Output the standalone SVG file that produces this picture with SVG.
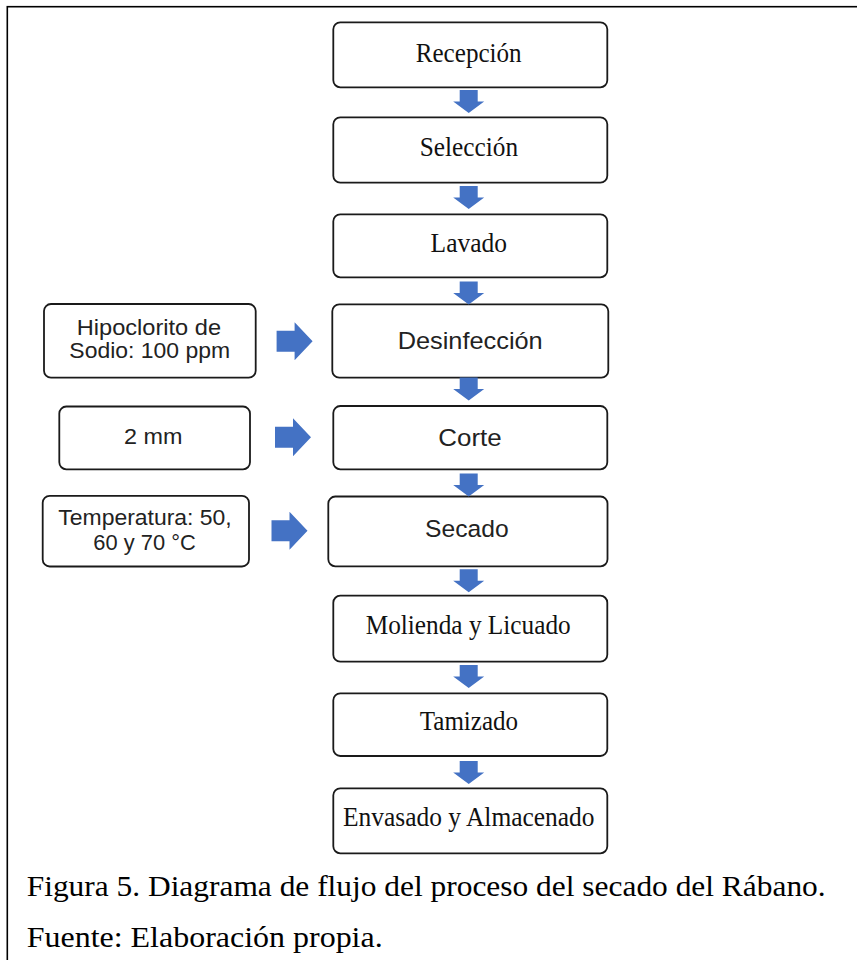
<svg xmlns="http://www.w3.org/2000/svg" width="857" height="960" viewBox="0 0 857 960">
<style>
.frame{fill:#fff;stroke:#000;stroke-width:1.6}
.box{fill:#fff;stroke:#1a1a1a;stroke-width:1.8}
.serif{font-family:"Liberation Serif","Times New Roman",serif;font-size:26.5px;fill:#111;text-anchor:middle}
.sans{font-family:"Liberation Sans",Arial,sans-serif;fill:#222;text-anchor:middle}
.big{font-size:24.5px}
.small{font-size:22px}
.cap{font-family:"Liberation Serif","Times New Roman",serif;font-size:30px;fill:#000}
.arr{fill:#4472C4}
</style>
<defs>
<path id="down" d="M-9,0 H9 V11.5 H15.5 L0,23 L-15.5,11.5 H-9 Z"/>
<path id="right" d="M0,-10.5 H18 V-19 L36,0 L18,19 V10.5 H0 Z"/>
</defs>
<rect class="frame" x="7.3" y="6.7" width="900" height="1000"/>

<g id="recepcion"><rect class="box" x="333.3" y="22.3" width="274" height="65" rx="7"/><text class="serif" x="468.7" y="61.7" textLength="106" lengthAdjust="spacingAndGlyphs">Recepción</text></g>
<g id="seleccion"><rect class="box" x="333.3" y="117.3" width="274" height="65.4" rx="7"/><text class="serif" x="468.9" y="156" textLength="98.3" lengthAdjust="spacingAndGlyphs">Selección</text></g>
<g id="lavado"><rect class="box" x="333.3" y="214.3" width="274" height="63" rx="7"/><text class="serif" x="468.8" y="251.5" textLength="76.4" lengthAdjust="spacingAndGlyphs">Lavado</text></g>
<g id="desinfeccion"><rect class="box" x="332.3" y="304.3" width="276" height="73.4" rx="7"/><text class="sans big" x="470.2" y="349" textLength="145" lengthAdjust="spacingAndGlyphs">Desinfección</text></g>
<g id="corte"><rect class="box" x="333.3" y="406" width="274" height="63.3" rx="7"/><text class="sans big" x="470" y="445.7" textLength="63.4" lengthAdjust="spacingAndGlyphs">Corte</text></g>
<g id="secado"><rect class="box" x="328.3" y="496.5" width="279.2" height="69.8" rx="7"/><text class="sans big" x="466.8" y="537.3" textLength="83.6" lengthAdjust="spacingAndGlyphs">Secado</text></g>
<g id="molienda"><rect class="box" x="333.3" y="595.7" width="274" height="66" rx="7"/><text class="serif" x="468.2" y="634.3" textLength="205" lengthAdjust="spacingAndGlyphs">Molienda y Licuado</text></g>
<g id="tamizado"><rect class="box" x="333.3" y="693.3" width="274" height="62.7" rx="7"/><text class="serif" x="468.9" y="729.5" textLength="98.3" lengthAdjust="spacingAndGlyphs">Tamizado</text></g>
<g id="envasado"><rect class="box" x="333.3" y="788.3" width="274" height="65" rx="7"/><text class="serif" x="468.8" y="826" textLength="251.5" lengthAdjust="spacingAndGlyphs">Envasado y Almacenado</text></g>

<g id="hipoclorito"><rect class="box" x="44" y="304" width="211.7" height="73.7" rx="7"/>
<text class="sans small" x="148.9" y="335" textLength="144.3" lengthAdjust="spacingAndGlyphs">Hipoclorito de</text>
<text class="sans small" x="149.7" y="358.3" textLength="160.7" lengthAdjust="spacingAndGlyphs">Sodio: 100 ppm</text></g>
<g id="espesor"><rect class="box" x="59.3" y="406.5" width="190.7" height="62.8" rx="7"/>
<text class="sans small" x="153.2" y="444.3" textLength="58.4" lengthAdjust="spacingAndGlyphs">2 mm</text></g>
<g id="temperatura"><rect class="box" x="42.7" y="495.8" width="206.3" height="70.7" rx="7"/>
<text class="sans small" x="145" y="524.5" textLength="173.4" lengthAdjust="spacingAndGlyphs">Temperatura: 50,</text>
<text class="sans small" x="144.5" y="549.5" textLength="102.4" lengthAdjust="spacingAndGlyphs">60 y 70 °C</text></g>

<g id="connectors" class="arr">
<use href="#down" x="468.7" y="90"/>
<use href="#down" x="468.7" y="186"/>
<use href="#down" x="468.7" y="281.5"/>
<use href="#down" x="468.7" y="377.5"/>
<use href="#down" x="468.7" y="473.5"/>
<use href="#down" x="468.7" y="569.3"/>
<use href="#down" x="468.7" y="665"/>
<use href="#down" x="468.7" y="761"/>
<use href="#right" x="276.6" y="341.2"/>
<use href="#right" x="275" y="437.2"/>
<use href="#right" x="271.5" y="530.8"/>
</g>

<text class="cap" x="26.7" y="895.7" textLength="799" lengthAdjust="spacingAndGlyphs">Figura 5. Diagrama de flujo del proceso del secado del Rábano.</text>
<text class="cap" x="26.7" y="947.3" textLength="356" lengthAdjust="spacingAndGlyphs">Fuente: Elaboración propia.</text>
</svg>
